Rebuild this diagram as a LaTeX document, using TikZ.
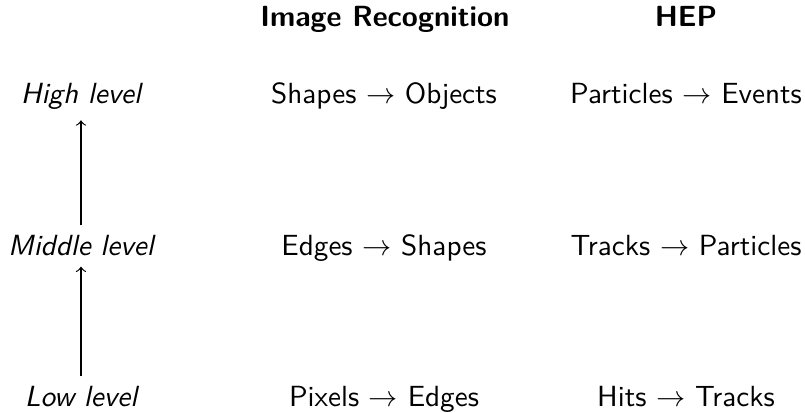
\documentclass[tikz,border=0pt]{standalone}
\begin{document}
\begin{tikzpicture}[x=0.343pt,y=-0.343pt,
  lbl/.style={anchor=base,font=\sffamily},
  lvl/.style={anchor=base,font=\sffamily\itshape},
  head/.style={anchor=base,font=\sffamily\bfseries}]
  % canvas
  \useasboundingbox (0,0) rectangle (805,413);
  % column headings
  \node[head] (hIR)  at (385,27) {Image Recognition};
  \node[head] (hHEP) at (686,27) {HEP};
  % abstraction levels
  \node[lvl] (high) at (81,104) {High level};
  \node[lvl] (mid)  at (81,256) {Middle level};
  \node[lvl] (low)  at (81,407) {Low level};
  \draw[->] (low.north) -- (mid.south);
  \draw[->] (mid.north) -- (high.south);
  % image recognition column
  \node[lbl] (ir1) at (384,104) {Shapes $\rightarrow$ Objects};
  \node[lbl] (ir2) at (384,256) {Edges $\rightarrow$ Shapes};
  \node[lbl] (ir3) at (384,407) {Pixels $\rightarrow$ Edges};
  % HEP column
  \node[lbl] (he1) at (686,104) {Particles $\rightarrow$ Events};
  \node[lbl] (he2) at (686,256) {Tracks $\rightarrow$ Particles};
  \node[lbl] (he3) at (686,407) {Hits $\rightarrow$ Tracks};
\end{tikzpicture}
\end{document}
